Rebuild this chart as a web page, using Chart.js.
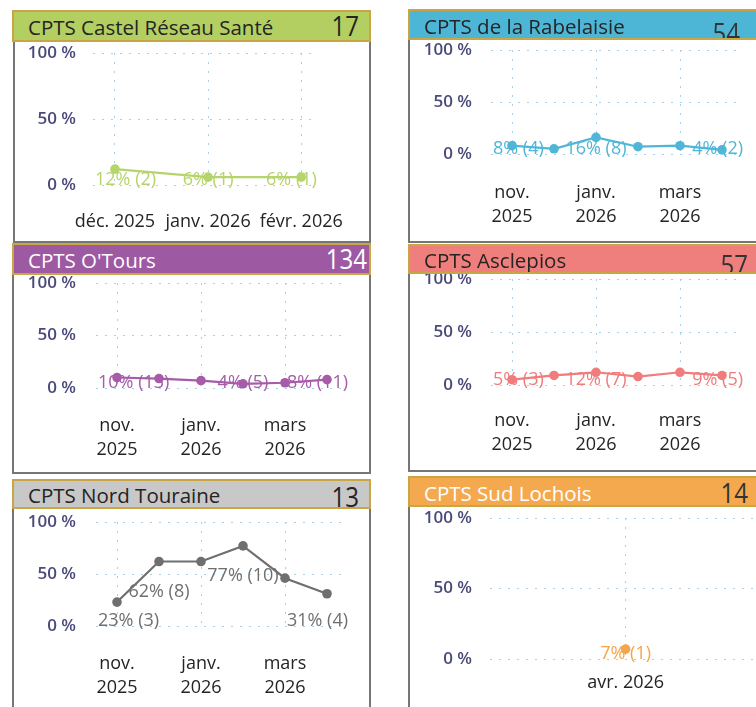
<!DOCTYPE html>
<html><head><meta charset="utf-8">
<script src="https://cdn.jsdelivr.net/npm/chart.js@4.4.1/dist/chart.umd.min.js"></script>
<style>
html,body{margin:0;padding:0;background:#fff;width:756px;height:707px;overflow:hidden;position:relative;font-family:'Open Sans',sans-serif;}
.box{position:absolute;box-sizing:border-box;border:2px solid #767676;border-top:none;background:#fff;z-index:1;}
canvas{position:absolute;z-index:2;}
.hdr{position:absolute;box-sizing:border-box;border:2px solid #c9a544;display:flex;align-items:center;justify-content:space-between;overflow:hidden;z-index:5;}
.ttl{font-size:20.5px;padding-left:14px;white-space:nowrap;position:relative;}
.num{font-family:'Open Sans',sans-serif;font-size:28px;font-weight:500;position:relative;white-space:nowrap;display:inline-block;transform:scaleX(0.86);transform-origin:100% 50%;}
</style></head><body>
<script>
// ---------- DATA ----------
const titles = ['CPTS Castel Réseau Santé', 'CPTS de la Rabelaisie', "CPTS O'Tours", 'CPTS Asclepios', 'CPTS Nord Touraine', 'CPTS Sud Lochois'];
const totals = [17, 54, 134, 57, 13, 14];

const monthsCastel = ['déc. 2025', 'janv. 2026', 'févr. 2026'];
const monthsSix = ['nov. 2025', 'déc. 2025', 'janv. 2026', 'févr. 2026', 'mars 2026', 'avr. 2026'];
const monthsLochois = ['avr. 2026'];

const pctCastel = [12, 6, 6];
const cntCastel = [2, 1, 1];
const pctRabelaisie = [8, 5, 16, 7, 8, 4];
const cntRabelaisie = [4, 3, 8, 4, 4, 2];
const pctOTours = [10, 9, 7, 4, 5, 8];
const cntOTours = [13, 12, 9, 5, 7, 11];
const pctAsclepios = [5, 9, 12, 8, 12, 9];
const cntAsclepios = [3, 5, 7, 4, 7, 5];
const pctNord = [23, 62, 62, 77, 46, 31];
const cntNord = [3, 8, 8, 10, 6, 4];
const pctLochois = [7];
const cntLochois = [1];

// which data labels are visible (others hidden by overlap in the original)
const shownCastel = [0, 1, 2];
const shownRabelaisie = [0, 2, 5];
const shownOTours = [0, 3, 5];
const shownAsclepios = [0, 2, 5];
const shownNord = [0, 1, 3, 5];
const shownLochois = [0];

const yTickValues = [0, 50, 100];

const series = [
  {months: monthsCastel, pct: pctCastel, cnt: cntCastel, shown: shownCastel},
  {months: monthsSix, pct: pctRabelaisie, cnt: cntRabelaisie, shown: shownRabelaisie},
  {months: monthsSix, pct: pctOTours, cnt: cntOTours, shown: shownOTours},
  {months: monthsSix, pct: pctAsclepios, cnt: cntAsclepios, shown: shownAsclepios},
  {months: monthsSix, pct: pctNord, cnt: cntNord, shown: shownNord},
  {months: monthsLochois, pct: pctLochois, cnt: cntLochois, shown: shownLochois}
];

// ---------- LAYOUT / STYLE ----------
const layout = [
  {box:{l:13,t:10,w:358,h:233}, hdr:{l:12,t:10,w:359,h:32}, bg:'#b3cf62', fg:'#252423', numFg:'#252423', numPad:10, numDy:-1,
   line:'#b6d46c', area:{l:93,r:337,t:53,b:185}, xPad:24, yPad:17, xH:50, continuous:true, xMin:-0.236, xMax:2.167, every:1, split:false},
  {box:{l:408,t:9,w:360,h:234}, hdr:{l:408,t:9,w:360,h:31}, bg:'#4db5d6', fg:'#252423', numFg:'#333333', numPad:26, numDy:7,
   line:'#4fb6d7', area:{l:491,r:743,t:50,b:154}, xPad:26, yPad:19, xH:75, every:2, split:true},
  {box:{l:12,t:243,w:359,h:231}, hdr:{l:12,t:243,w:359,h:32}, bg:'#9d5aa2', fg:'#ffffff', numFg:'#ffffff', numPad:2, numDy:-1,
   line:'#a65ca9', area:{l:96,r:348,t:283,b:388}, xPad:25, yPad:20, xH:75, every:2, split:true},
  {box:{l:408,t:244,w:360,h:228}, hdr:{l:408,t:244,w:360,h:30}, bg:'#ef7f7d', fg:'#252423', numFg:'#333333', numPad:18, numDy:5,
   line:'#f07c7c', area:{l:491,r:743,t:279,b:385}, xPad:23, yPad:19, xH:75, every:2, split:true},
  {box:{l:12,t:479,w:359,h:240}, hdr:{l:12,t:479,w:359,h:30}, bg:'#c8c8c8', fg:'#252423', numFg:'#252423', numPad:10, numDy:2,
   line:'#6f6f6f', area:{l:96,r:348,t:522,b:626}, xPad:25, yPad:20, xH:75, every:2, split:true},
  {box:{l:408,t:476,w:360,h:240}, hdr:{l:408,t:476,w:360,h:31}, bg:'#f5a94f', fg:'#ffffff', numFg:'#333333', numPad:18, numDy:0,
   line:'#f5a54a', area:{l:490,r:762,t:518,b:659}, xPad:11, yPad:18, xH:40, every:1, split:false}
];

const GRID = '#a3d3ee';
const FONT = "'Open Sans', sans-serif";

const pointLabels = {
  id: 'pointLabels',
  afterDatasetsDraw(chart, args, opts) {
    const {ctx, chartArea} = chart;
    const meta = chart.getDatasetMeta(0);
    const zeroY = chart.scales.y.getPixelForValue(0);
    ctx.save();
    ctx.font = '18px ' + FONT;
    ctx.fillStyle = opts.color;
    ctx.textAlign = 'center';
    ctx.textBaseline = 'middle';
    meta.data.forEach((pt, i) => {
      if (!opts.shown.includes(i)) return;
      const text = opts.pct[i] + '% (' + opts.cnt[i] + ')';
      const w = ctx.measureText(text).width;
      let x = Math.max(chartArea.left + w / 2 + 2, Math.min(chartArea.right - w / 2, pt.x));
      let y = Math.min(pt.y + 30, zeroY - 5);
      ctx.fillText(text, x, y);
    });
    ctx.restore();
  }
};

layout.forEach((p, k) => {
  const d = series[k];
  const box = document.createElement('div');
  box.className = 'box';
  Object.assign(box.style, {left:p.box.l+'px', top:p.box.t+'px', width:p.box.w+'px', height:p.box.h+'px'});
  document.body.appendChild(box);
  const h = document.createElement('div');
  h.className = 'hdr';
  Object.assign(h.style, {left:p.hdr.l+'px', top:p.hdr.t+'px', width:p.hdr.w+'px', height:p.hdr.h+'px', background:p.bg, color:p.fg});
  const t = document.createElement('span'); t.className = 'ttl'; t.textContent = titles[k]; t.style.top = '1px';
  const nw = document.createElement('span'); nw.style.paddingRight = p.numPad + 'px';
  const n = document.createElement('span'); n.className = 'num'; n.textContent = totals[k];
  n.style.color = p.numFg; n.style.top = p.numDy + 'px';
  nw.appendChild(n);
  h.appendChild(t); h.appendChild(nw);
  document.body.appendChild(h);
  const cv = document.createElement('canvas');
  const c = {l: p.box.l + 2, t: p.hdr.t, w: p.box.w - 4, h: Math.min(p.box.h - 2, 707 - p.hdr.t)};
  cv.width = c.w; cv.height = c.h;
  cv.style.left = c.l + 'px'; cv.style.top = c.t + 'px';
  cv.style.width = c.w + 'px'; cv.style.height = c.h + 'px';
  document.body.appendChild(cv);
  const Wy = 70;
  const pad = {
    left: p.area.l - c.l - Wy,
    right: c.l + c.w - p.area.r,
    top: p.area.t - c.t,
    bottom: c.t + c.h - p.area.b - p.xH
  };
  const tickFontX = {family: FONT, size: 18, lineHeight: 1.38};
  let xScale;
  if (p.continuous) {
    xScale = {
      type: 'linear', min: p.xMin, max: p.xMax,
      afterBuildTicks: s => { s.ticks = d.months.map((_, i) => ({value: i})); },
      afterFit: s => { s.height = p.xH; },
      grid: {color: GRID, lineWidth: 1, drawTicks: false},
      border: {display: false, dash: [2, 7]},
      ticks: {padding: p.xPad, color: '#252423', font: tickFontX, maxRotation: 0, autoSkip: false,
        callback: v => d.months[v]}
    };
  } else {
    xScale = {
      type: 'category', offset: true,
      afterFit: s => { s.height = p.xH; },
      grid: {offset: false, lineWidth: 1, drawTicks: false,
        color: g => (g.index % p.every === 0 ? GRID : 'rgba(0,0,0,0)')},
      border: {display: false, dash: [2, 7]},
      ticks: {padding: p.xPad, color: '#252423', font: tickFontX, maxRotation: 0, autoSkip: false,
        callback: (v, i) => (i % p.every ? '' : (p.split ? d.months[i].split(' ') : d.months[i]))}
    };
  }
  new Chart(cv, {
    type: 'line',
    data: {
      labels: d.months,
      datasets: [{
        data: p.continuous ? d.pct.map((v, i) => ({x: i, y: v})) : d.pct,
        borderColor: p.line, backgroundColor: p.line,
        borderWidth: 2.2, pointRadius: 4.8, pointHoverRadius: 4.8, pointBorderWidth: 0,
        tension: 0, clip: false
      }]
    },
    options: {
      responsive: false, animation: false, events: [],
      layout: {padding: pad},
      plugins: {legend: {display: false}, tooltip: {enabled: false},
        pointLabels: {color: p.line, pct: d.pct, cnt: d.cnt, shown: d.shown}},
      scales: {
        x: xScale,
        y: {
          min: 0, max: 100,
          afterBuildTicks: s => { s.ticks = yTickValues.map(v => ({value: v})); },
          afterFit: s => { s.width = Wy; },
          grid: {color: GRID, lineWidth: 1, drawTicks: false},
          border: {display: false, dash: [2, 7]},
          ticks: {padding: p.yPad, color: '#4a4a7c', font: {family: FONT, size: 17, weight: '600'}, callback: v => v + ' %'}
        }
      }
    },
    plugins: [pointLabels]
  });
});
</script>
</body></html>
